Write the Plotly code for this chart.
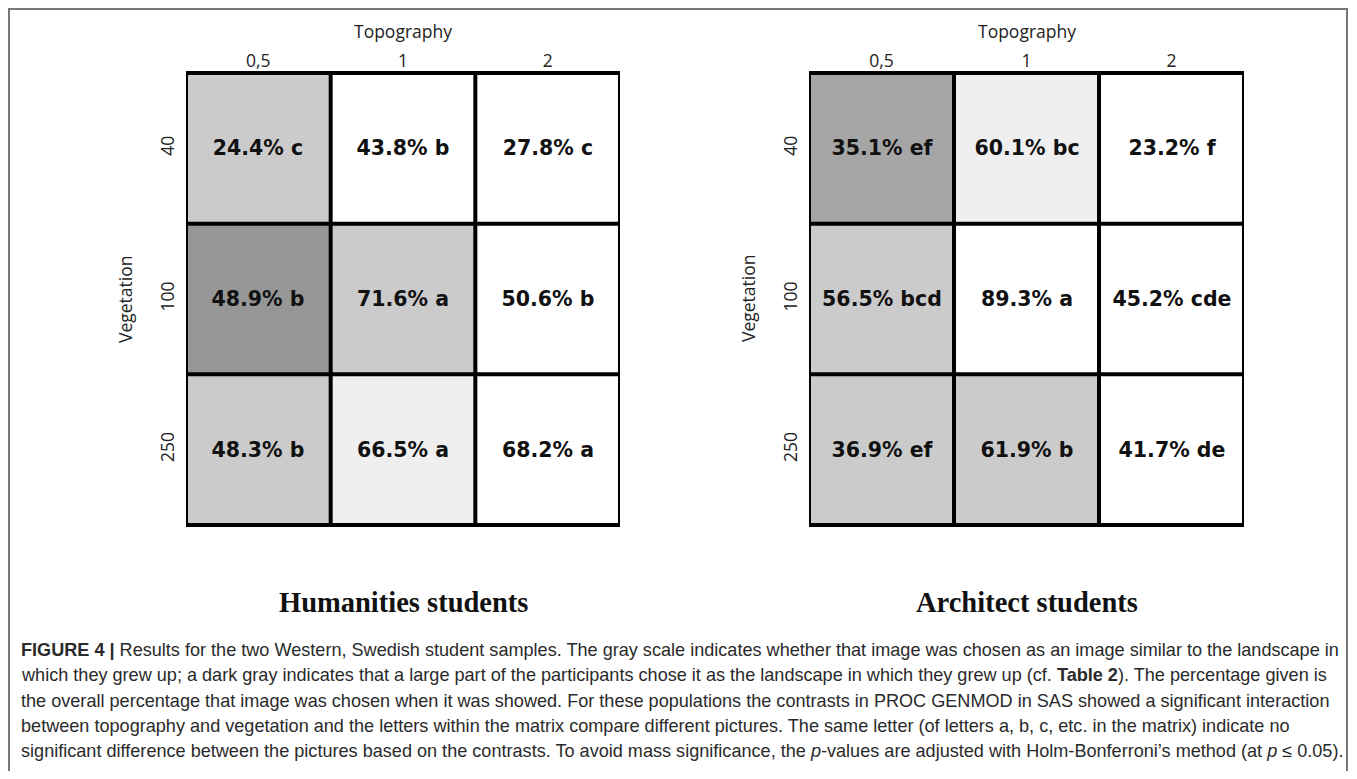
import plotly.graph_objects as go

topography = ["0,5", "1", "2"]
vegetation = ["40", "100", "250"]

hum_pct = [[24.4, 43.8, 27.8], [48.9, 71.6, 50.6], [48.3, 66.5, 68.2]]
hum_letters = [["c", "b", "c"], ["b", "a", "b"], ["b", "a", "a"]]
hum_shade = [[2, 0, 0], [4, 2, 0], [2, 1, 0]]

arch_pct = [[35.1, 60.1, 23.2], [56.5, 89.3, 45.2], [36.9, 61.9, 41.7]]
arch_letters = [["ef", "bc", "f"], ["bcd", "a", "cde"], ["ef", "b", "de"]]
arch_shade = [[3, 1, 0], [2, 0, 0], [2, 2, 0]]

panel_titles = ["Humanities students", "Architect students"]

caption_lines = [
    "<b>FIGURE 4 |</b> Results for the two Western, Swedish student samples. The gray scale indicates whether that image was chosen as an image similar to the landscape in",
    "which they grew up; a dark gray indicates that a large part of the participants chose it as the landscape in which they grew up (cf. <b>Table 2</b>). The percentage given is",
    "the overall percentage that image was chosen when it was showed. For these populations the contrasts in PROC GENMOD in SAS showed a significant interaction",
    "between topography and vegetation and the letters within the matrix compare different pictures. The same letter (of letters a, b, c, etc. in the matrix) indicate no",
    "significant difference between the pictures based on the contrasts. To avoid mass significance, the <i>p</i>-values are adjusted with Holm-Bonferroni\u2019s method (at <i>p</i> \u2264 0.05).",
]

# page body has an 8px margin; figure is placed at (8, 8)
OFF = 8
W, H = 1349, 763


def px(x):
    return (x - OFF) / W


def py(y):
    return 1 - (y - OFF) / H


gray_scale = [[0.0, "#ffffff"], [0.25, "#efefef"], [0.5, "#cbcbcb"], [0.75, "#a6a6a6"], [1.0, "#969696"]]

fig = go.Figure()

panels = [
    (hum_pct, hum_letters, hum_shade, "x", "y", (186, 620)),
    (arch_pct, arch_letters, arch_shade, "x2", "y2", (809, 1244)),
]
grid_top, grid_bot = 71, 527
ydom = (py(grid_bot), py(grid_top))

cell_font = dict(family="DejaVu Sans, Verdana, sans-serif", size=20.5, color="#111111")
tick_font = dict(family="Open Sans, Liberation Sans, sans-serif", size=17.5, color="#222222")

for i, (pct, let, shade, xa, ya, (xl, xr)) in enumerate(panels):
    text = [[f"<b>{pct[r][c]:.1f}% {let[r][c]}</b>" for c in range(3)] for r in range(3)]
    fig.add_trace(go.Heatmap(
        x=topography, y=vegetation, z=shade, text=text, texttemplate="%{text}",
        textfont=cell_font, colorscale=gray_scale, zmin=0, zmax=4,
        showscale=False, hoverinfo="skip", xaxis=xa, yaxis=ya,
    ))
    sfx = "" if i == 0 else "2"
    fig.update_layout(**{
        "xaxis" + sfx: dict(
            domain=[px(xl), px(xr)], side="top", anchor="y" + sfx, showgrid=False, zeroline=False,
            ticks="", tickfont=tick_font, ticklabelstandoff=0,
            range=[-0.5, 2.5], fixedrange=True,
        ),
        "yaxis" + sfx: dict(
            domain=list(ydom), anchor="x" + sfx, showgrid=False, zeroline=False,
            ticks="", tickfont=tick_font, tickangle=-90, ticklabelstandoff=8,
            autorange="reversed", fixedrange=True,
        ),
    })
    # axis titles
    fig.add_annotation(x=px((xl + xr) / 2), y=py(31), xref="paper", yref="paper",
                       xanchor="center", yanchor="middle", text="Topography",
                       showarrow=False, font=tick_font)
    fig.add_annotation(x=px(xl - 61), y=py((grid_top + grid_bot) / 2), xref="paper", yref="paper",
                       xanchor="center", yanchor="middle", text="Vegetation", textangle=-90,
                       showarrow=False, font=tick_font)
    # cell borders
    for k in range(4):
        b = k - 0.5
        fig.add_shape(type="line", xref=xa, yref=ya + " domain", x0=b, x1=b, y0=0, y1=1,
                      line=dict(color="black", width=4))
        fig.add_shape(type="line", xref=xa + " domain", yref=ya, x0=0, x1=1, y0=b, y1=b,
                      line=dict(color="black", width=4))
    # panel title
    fig.add_annotation(
        x=px((xl + xr) / 2), y=py(602), xref="paper", yref="paper",
        xanchor="center", yanchor="middle",
        text=f"<b>{panel_titles[i]}</b>", showarrow=False,
        font=dict(family="Liberation Serif, Times New Roman, serif", size=28.5, color="#111111"),
    )

# outer frame
fig.add_shape(type="rect", xref="paper", yref="paper",
              x0=px(9), x1=px(1347), y0=-0.05, y1=py(9),
              line=dict(color="#777777", width=2))

for j, line in enumerate(caption_lines):
    fig.add_annotation(
        x=px(19), y=py(650 + j * 25.3), xref="paper", yref="paper",
        xanchor="left", yanchor="middle", text=line, showarrow=False,
        font=dict(family="Liberation Sans, Arial, sans-serif", size=18.1, color="#2a2a2a"),
    )

fig.update_layout(
    width=W, height=H, margin=dict(l=0, r=0, t=0, b=0),
    paper_bgcolor="white", plot_bgcolor="white", showlegend=False,
)

fig.write_html("out.html")
